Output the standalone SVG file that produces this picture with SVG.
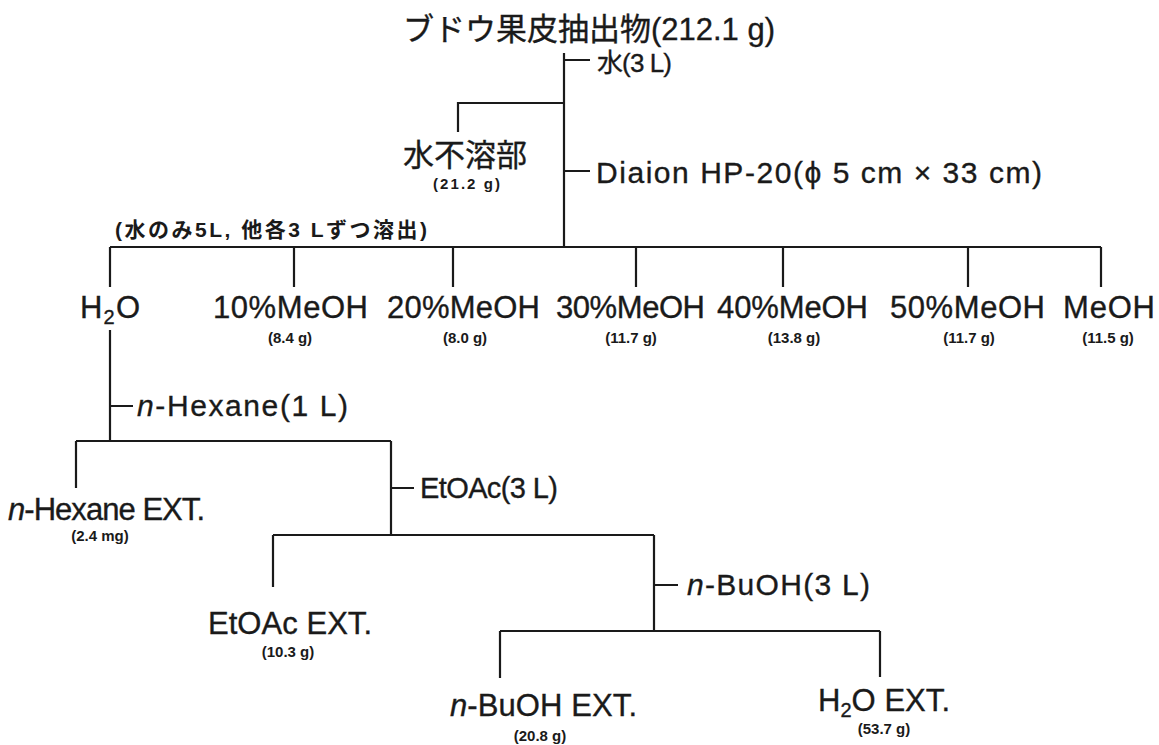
<svg xmlns="http://www.w3.org/2000/svg" width="1159" height="745" viewBox="0 0 1159 745">
<style>
text{font-family:"Liberation Sans","Noto Sans CJK JP",sans-serif;fill:#1a1a1a;stroke:#1a1a1a;stroke-width:0.35}
.t{font-size:31px}
.lb{font-size:31px}
.md{font-size:29px}
.sm{font-size:15px;font-weight:bold;stroke-width:0}
.c{text-anchor:middle}
.i{font-style:italic}
.ln{fill:none;stroke:#1a1a1a;stroke-width:2.2}
</style>
<rect width="1159" height="745" fill="#fff"/>
<g id="connectors" class="ln">
<path d="M564 53V247M564 60H590M564 103H458V132M564 171H590"/>
<path d="M110 247H1101M110 247V287M294 247V287M453 247V287M636 247V287M783 247V287M968 247V287M1101 247V287"/>
<path d="M110 330V441M110 406H133M76 441H391M76 441V488M391 441V535M391 488H414"/>
<path d="M273 535H654M273 535V587M654 535V631M654 585H678M500 631H880M500 631V678M880 631V677"/>
</g>
<g id="n-title"><text class="t" x="403" y="40" textLength="372">ブドウ果皮抽出物(212.1 g)</text></g>
<g id="l-water"><text x="597" y="72" textLength="75" style="font-size:26px">水(3 L)</text></g>
<g id="n-insol"><text class="t" x="403" y="166" textLength="124">水不溶部</text><text class="sm" x="433" y="189" textLength="67">(21.2  g)</text></g>
<g id="l-diaion"><text class="md" x="596" y="183" textLength="446" style="font-size:30px">Diaion HP-20(ϕ 5 cm  ×  33 cm)</text></g>
<g id="l-elution"><text x="115" y="237" style="font-size:21px;font-weight:bold;stroke-width:0" textLength="312">(水のみ5L, 他各3 Lずつ溶出)</text></g>
<g id="n-h2o"><text class="lb" x="80" y="318" textLength="60">H<tspan font-size="20" dy="6">2</tspan><tspan dy="-6">O</tspan></text></g>
<g id="n-m10"><text class="lb" x="213" y="318" textLength="155">10%MeOH</text><text class="sm c" x="290" y="343">(8.4 g)</text></g>
<g id="n-m20"><text class="lb" x="387" y="318" textLength="153">20%MeOH</text><text class="sm c" x="465" y="343">(8.0 g)</text></g>
<g id="n-m30"><text class="lb" x="556" y="318" textLength="149">30%MeOH</text><text class="sm c" x="631" y="343">(11.7 g)</text></g>
<g id="n-m40"><text class="lb" x="717" y="318" textLength="151">40%MeOH</text><text class="sm c" x="794" y="343">(13.8 g)</text></g>
<g id="n-m50"><text class="lb" x="890" y="318" textLength="155">50%MeOH</text><text class="sm c" x="969" y="343">(11.7 g)</text></g>
<g id="n-meoh"><text class="lb" x="1063" y="318" textLength="92">MeOH</text><text class="sm c" x="1108" y="343">(11.5 g)</text></g>
<g id="l-hexane"><text class="md" x="137" y="416" textLength="211" style="font-size:30px"><tspan class="i">n</tspan>-Hexane(1 L)</text></g>
<g id="n-hexext"><text class="lb" x="8" y="520" textLength="197"><tspan class="i">n</tspan>-Hexane EXT.</text><text class="sm c" x="100" y="541">(2.4 mg)</text></g>
<g id="l-etoac"><text class="md" x="420" y="498" textLength="138">EtOAc(3 L)</text></g>
<g id="n-etoacext"><text class="lb" x="208" y="634" textLength="164">EtOAc EXT.</text><text class="sm c" x="288" y="657">(10.3 g)</text></g>
<g id="l-buoh"><text class="md" x="687" y="595" textLength="183" style="font-size:30px"><tspan class="i">n</tspan>-BuOH(3 L)</text></g>
<g id="n-buohext"><text class="lb" x="450" y="716" textLength="187"><tspan class="i">n</tspan>-BuOH EXT.</text><text class="sm c" x="540" y="741">(20.8 g)</text></g>
<g id="n-h2oext"><text class="lb" x="818" y="711" textLength="132">H<tspan font-size="20" dy="6">2</tspan><tspan dy="-6">O EXT.</tspan></text><text class="sm c" x="884" y="734">(53.7 g)</text></g>
</svg>
